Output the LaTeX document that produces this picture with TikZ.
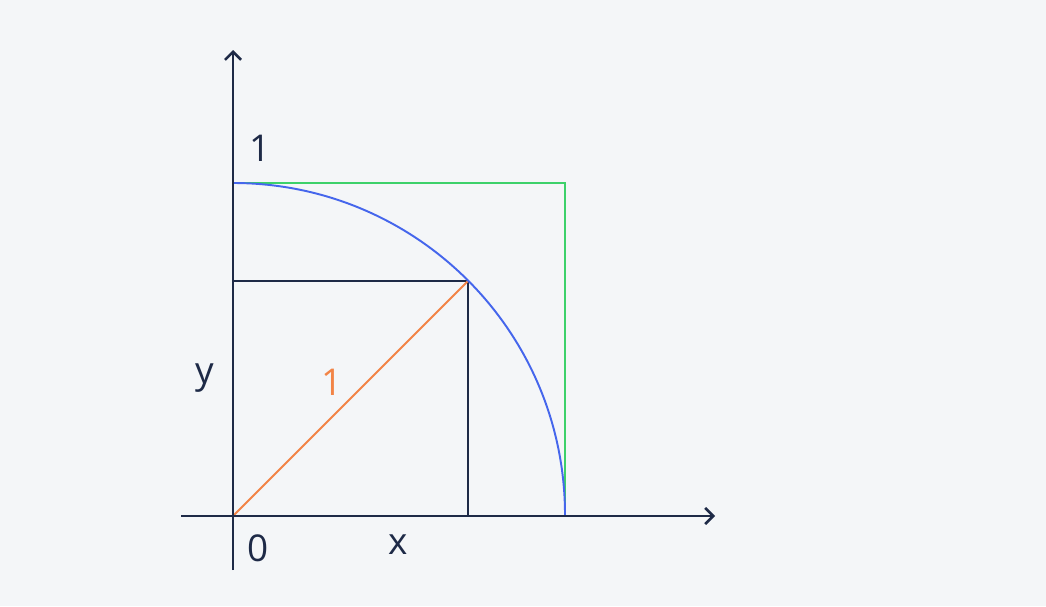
\documentclass[tikz,border=0pt]{standalone}
\usepackage{fontspec}
\setmainfont{Open Sans}
\usetikzlibrary{arrows.meta}
\definecolor{bg}{HTML}{F4F6F8}
\definecolor{navy}{HTML}{1E2A47}
\definecolor{grn}{HTML}{3DD16A}
\definecolor{blu}{HTML}{4566EC}
\definecolor{org}{HTML}{F28446}
\begin{document}
\begin{tikzpicture}[x=0.01cm,y=-0.01cm,
  axis/.style={navy,line width=0.75pt,-{Straight Barb[length=0.8mm,width=1.6mm,line width=0.75pt]}},
  lbl/.style={font=\fontsize{10.5}{12}\selectfont,text=navy,inner sep=0pt},
  thin/.style={line width=0.55pt}]
\fill[bg] (0,0) rectangle (1046,606);
\useasboundingbox (0,0) rectangle (1046,606);
\coordinate (O) at (233,516);
\coordinate (ytop) at (233,183);
\coordinate (xend) at (565,516);
\coordinate (corner) at (565,183);
\coordinate (P) at (467.8,281.2);
\coordinate (Px) at (467.8,516);
\coordinate (Py) at (233,281.2);
\coordinate (xs) at (181,516);
\coordinate (xe) at (715,516);
\coordinate (ys) at (233,570);
\coordinate (ye) at (233,50);
\draw[grn,thin] (ytop) -- (corner) -- (xend);
\draw[navy,line width=0.7pt] (Py) -- (P) -- (Px);
\draw[org,thin] (O) -- (P);
\draw[blu,thin] (ytop) arc[start angle=-90,end angle=0,radius=332];
\draw[axis] (xs) -- (xe);
\draw[axis] (ys) -- (ye);
\node[lbl] (one) at (260,148) {1};
\node[lbl] (ylab) at (205,378) {y};
\node[lbl,text=org] (r) at (332,382) {1};
\node[lbl] (zero) at (258,548) {0};
\node[lbl] (xlab) at (398,545) {x};
\end{tikzpicture}
\end{document}
